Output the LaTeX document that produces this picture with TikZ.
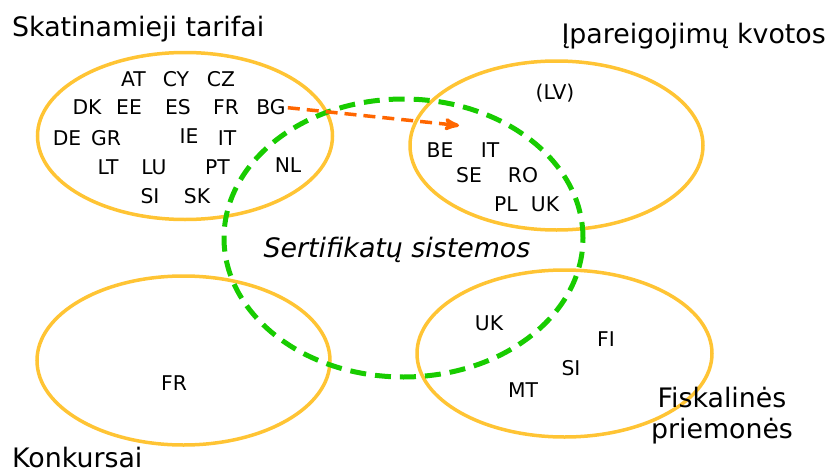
\documentclass[tikz,border=0pt]{standalone}
\usepackage{fontspec}
\setmainfont{DejaVu Sans}
\usepackage{tikz}
\usetikzlibrary{arrows}
\usetikzlibrary{shapes.geometric}
\usetikzlibrary{positioning}
\definecolor{setyellow}{RGB}{255,196,52}
\definecolor{certgreen}{RGB}{24,204,0}
\definecolor{linkorange}{RGB}{255,102,0}

\begin{document}
\begin{tikzpicture}[x=1pt,y=-1pt,>=stealth',
    set node/.style={ellipse,draw=setyellow,line width=3.5pt,inner sep=0pt},
    code node/.style={font=\fontsize{20.3}{24}\selectfont,inner sep=0pt},
    title node/.style={font=\fontsize{26.8}{31}\selectfont,inner sep=0pt}]
   \useasboundingbox (0,0) rectangle (828,474);
   \begin{scope}
     % the four schemes
     \node[set node,minimum width=295pt,minimum height=167pt] (feedin) at (185,136) {};
     \node[set node,minimum width=293pt,minimum height=169pt] (quota) at (556.5,145.5) {};
     \node[set node,minimum width=293pt,minimum height=169pt] (tender) at (183.5,360.5) {};
     \node[set node,minimum width=295pt,minimum height=167pt] (fiscal) at (564.5,353.5) {};
     % certificates
     \draw[certgreen,line width=5pt,dash pattern=on 16pt off 9pt] (403.5,238) ellipse [x radius=179.5pt,y radius=139pt];
     \node[title node,font=\fontsize{26.8}{31}\selectfont\itshape] (cert) at (397,249.5) {Sertifikatų sistemos};
     % titles
     \node[title node,anchor=base west] (feedintitle) at (12,36) {Skatinamieji tarifai};
     \node[title node,anchor=base east] (quotatitle) at (826,43) {Įpareigojimų kvotos};
     \node[title node,anchor=base west] (tendertitle) at (12,467) {Konkursai};
     \node[title node,align=center,anchor=base] (fiscaltitle) at (722,438) {Fiskalinės\\priemonės};
     % feed-in tariffs
     \node[code node] (at) at (133.5,79.5) {AT};
     \node[code node] (cy) at (176,79) {CY};
     \node[code node] (cz) at (221,79) {CZ};
     \node[code node] (dk) at (87,107.5) {DK};
     \node[code node] (ee) at (129,107.5) {EE};
     \node[code node] (es) at (178,107.5) {ES};
     \node[code node] (fr) at (226,107.5) {FR};
     \node[code node] (bg) at (271,107.5) {BG};
     \node[code node] (de) at (67,138) {DE};
     \node[code node] (gr) at (106,138) {GR};
     \node[code node] (ie) at (189,136) {IE};
     \node[code node] (it) at (227,138) {IT};
     \node[code node] (lt) at (108,167) {LT};
     \node[code node] (lu) at (154,167) {LU};
     \node[code node] (pt) at (217.5,167) {PT};
     \node[code node] (nl) at (288,165.5) {NL};
     \node[code node] (si) at (150,196) {SI};
     \node[code node] (sk) at (197,196) {SK};
     % quotas
     \node[code node] (lv) at (555,93) {(LV)};
     \node[code node] (be) at (440,150) {BE};
     \node[code node] (itq) at (490,150) {IT};
     \node[code node] (se) at (469,175) {SE};
     \node[code node] (ro) at (523,175) {RO};
     \node[code node] (pl) at (506,204) {PL};
     \node[code node] (ukq) at (545,204) {UK};
     % tenders
     \node[code node] (frt) at (174,383) {FR};
     % fiscal measures
     \node[code node] (ukf) at (489,323) {UK};
     \node[code node] (fi) at (606,339.5) {FI};
     \node[code node] (sif) at (571,368) {SI};
     \node[code node] (mt) at (523,390.5) {MT};
     % BG moves over
     \coordinate (bgtarget) at (459,125.5);
     \path[->,linkorange,line width=3.5pt,dash pattern=on 12pt off 7pt,shorten <=2pt] (bg.east) edge (bgtarget);
   \end{scope}
  \end{tikzpicture}
\end{document}
